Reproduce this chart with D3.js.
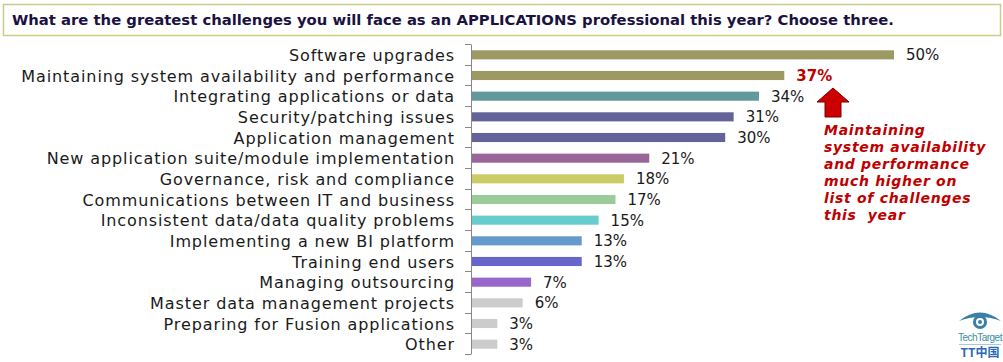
<!DOCTYPE html>
<html>
<head>
<meta charset="utf-8">
<script src="https://cdn.jsdelivr.net/npm/d3@7"></script>
<style>
  body { margin: 0; background: #fff; }
  svg { display: block; font-family: "DejaVu Sans", Verdana, sans-serif; }
</style>
</head>
<body>
<script>
// chart data
var categories = [
  "Software upgrades",
  "Maintaining system availability and performance",
  "Integrating applications or data",
  "Security/patching issues",
  "Application management",
  "New application suite/module implementation",
  "Governance, risk and compliance",
  "Communications between IT and business",
  "Inconsistent data/data quality problems",
  "Implementing a new BI platform",
  "Training end users",
  "Managing outsourcing",
  "Master data management projects",
  "Preparing for Fusion applications",
  "Other"
];
var values = [50, 37, 34, 31, 30, 21, 18, 17, 15, 13, 13, 7, 6, 3, 3];
var colors = ["#9c9a62", "#9c9a62", "#62999a", "#636399", "#636399", "#996699",
  "#cccc66", "#99cc99", "#66cccc", "#6699cc", "#6666cc", "#9966cc",
  "#cccccc", "#cccccc", "#cccccc"];
var title = "What are the greatest challenges you will face as an APPLICATIONS professional this year? Choose three.";
var noteLines = ["Maintaining", "system availability", "and performance",
  "much higher on", "list of challenges", "this  year"];

var W = 1003, H = 362;
var svg = d3.select("body").append("svg")
  .attr("width", W)
  .attr("height", H);

// title box
svg.append("rect")
  .attr("x", 3.5).attr("y", 4.5)
  .attr("width", 997).attr("height", 31)
  .attr("fill", "#fff")
  .attr("stroke", "#cccc88")
  .attr("stroke-width", 1.5);
svg.append("text")
  .attr("x", 12).attr("y", 25)
  .attr("font-size", 14.8)
  .attr("font-weight", "bold")
  .attr("fill", "#1c1240")
  .text(title);

var x0 = 471;
var x = d3.scaleLinear().domain([0, 50]).range([x0, 893]);
var y = d3.scaleBand().domain(categories).range([44.5, 354.5]).paddingInner(0.56).paddingOuter(0.28);

var g = svg.append("g");

// bars
g.selectAll(".bar")
  .data(values)
  .enter().append("rect")
  .attr("class", "bar")
  .attr("x", x(0) + 1)
  .attr("y", function(d, i) { return y(categories[i]); })
  .attr("width", function(d) { return x(d) - x(0); })
  .attr("height", y.bandwidth())
  .attr("fill", function(d, i) { return colors[i]; });

// value labels
g.selectAll(".val")
  .data(values)
  .enter().append("text")
  .attr("class", "val")
  .attr("x", function(d) { return x(d) + 13; })
  .attr("y", function(d, i) { return y(categories[i]) + y.bandwidth() / 2 + 5.5; })
  .attr("font-size", 15)
  .attr("font-weight", function(d, i) { return i == 1 ? "bold" : "normal"; })
  .attr("fill", function(d, i) { return i == 1 ? "#c00000" : "#1a1a1a"; })
  .text(function(d) { return d + "%"; });

// category labels
g.selectAll(".cat")
  .data(categories)
  .enter().append("text")
  .attr("class", "cat")
  .attr("x", 455)
  .attr("y", function(d) { return y(d) + y.bandwidth() / 2 + 6; })
  .attr("text-anchor", "end")
  .attr("font-size", 16)
  .attr("letter-spacing", 0.9)
  .attr("fill", "#1a1a1a")
  .text(function(d) { return d; });

// axis line + ticks at category boundaries
g.append("line")
  .attr("x1", x0 + 0.5).attr("x2", x0 + 0.5)
  .attr("y1", 44.5).attr("y2", 354.5)
  .attr("stroke", "#888");
d3.range(categories.length + 1).forEach(function(i) {
  var yy = Math.round(44 + i * (310 / categories.length)) + 0.5;
  g.append("line")
    .attr("x1", x0 - 6).attr("x2", x0)
    .attr("y1", yy).attr("y2", yy)
    .attr("stroke", "#888");
});

// annotation arrow
var ax = 833, ay = 88;
svg.append("path")
  .attr("d", "M" + ax + "," + ay + " L" + (ax + 16) + "," + (ay + 14) + " L" + (ax + 8) + "," + (ay + 14) +
    " L" + (ax + 8) + "," + (ay + 29) + " L" + (ax - 8) + "," + (ay + 29) + " L" + (ax - 8) + "," + (ay + 14) +
    " L" + (ax - 16) + "," + (ay + 14) + " Z")
  .attr("fill", "#cc0000")
  .attr("stroke", "#7a0000")
  .attr("stroke-width", 1);

svg.append("g").selectAll("text")
  .data(noteLines)
  .enter().append("text")
  .attr("x", 824)
  .attr("y", function(d, i) { return 135 + i * 17; })
  .attr("font-size", 14)
  .attr("font-weight", "bold")
  .attr("font-style", "italic")
  .attr("letter-spacing", 0.7)
  .style("white-space", "pre")
  .attr("fill", "#c00000")
  .text(function(d) { return d; });

// logo
var logo = svg.append("g").attr("transform", "translate(980,322)");
logo.append("path")
  .attr("d", "M-21,-1 Q0,-18 21,-1 Q0,-9 -21,-1 Z")
  .attr("fill", "#3a7fa6");
logo.append("circle").attr("cx", 0).attr("cy", 0).attr("r", 7).attr("fill", "#3a7fa6");
logo.append("circle").attr("cx", 0).attr("cy", 0).attr("r", 4).attr("fill", "#fff");
logo.append("circle").attr("cx", 0).attr("cy", 0).attr("r", 2).attr("fill", "#3a7fa6");
logo.append("text")
  .attr("x", 0).attr("y", 19)
  .attr("text-anchor", "middle")
  .attr("font-size", 10)
  .attr("font-family", "Arial, sans-serif")
  .attr("letter-spacing", -0.5)
  .attr("fill", "#3a8fa0")
  .text("TechTarget");
logo.append("line")
  .attr("x1", -21).attr("x2", 21).attr("y1", 22.5).attr("y2", 22.5)
  .attr("stroke", "#a8c8d8");
logo.append("text")
  .attr("x", 0).attr("y", 35)
  .attr("text-anchor", "middle")
  .attr("font-size", 12)
  .attr("font-weight", "bold")
  .attr("font-family", "'Noto Sans CJK SC', sans-serif")
  .attr("fill", "#2a6ab8")
  .text("TT中国");
</script>
</body>
</html>
